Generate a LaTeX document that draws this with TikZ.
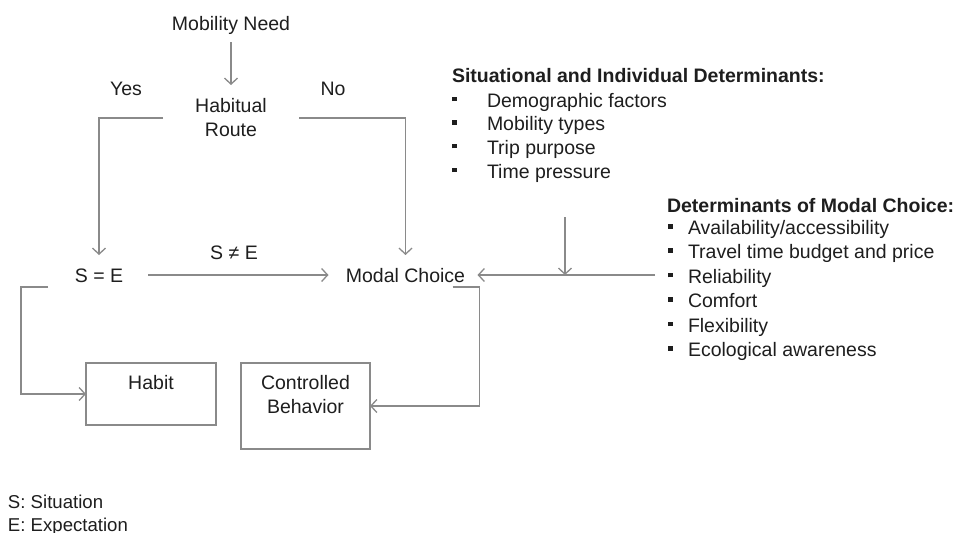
\documentclass[tikz,border=0pt]{standalone}
\usepackage{fontspec}
\setmainfont{Liberation Sans}
\usetikzlibrary{arrows.meta}
\definecolor{ink}{HTML}{1E1E1E}
\definecolor{wire}{HTML}{8A8A8A}
\newcommand{\sqbullet}{\rule[6pt]{4.5pt}{4.5pt}}
\begin{document}
\begin{tikzpicture}[x=1pt,y=-1pt,
  every node/.style={text=ink,font=\fontsize{19.5}{24}\selectfont,inner sep=0pt,outer sep=0pt},
  label/.style={anchor=base},
  item/.style={anchor=base west},
  arr/.style={draw=wire,line width=1.4pt,-{Straight Barb[length=6pt,width=13pt,line width=1.3pt]}},
  wireline/.style={draw=wire,line width=1.4pt},
  box/.style={draw=wire,line width=1.2pt,align=center},
  heading/.style={anchor=base west,font=\fontsize{19.5}{24}\selectfont\bfseries}]
\useasboundingbox[fill=white] (0,0) rectangle (970,533);

% decision flow
\node[label] (need) at (231,30.5) {Mobility Need};
\node[align=center,minimum width=136pt,minimum height=66pt] (route) at (231,118) {Habitual\\Route};
\node[label] (yes) at (126,95) {Yes};
\node[label] (no) at (333,95) {No};
\node[label] (see) at (99,282) {S = E};
\node[label] (modal) at (405.5,282) {Modal Choice};
\node[label] (neq) at (234,259) {S ≠ E};

% outcomes
\node[box,minimum width=130pt,minimum height=62pt] (habit) at (151,394) {Habit\\\mbox{}};
\node[box,minimum width=129pt,minimum height=86pt] (ctrl) at (305.5,406) {Controlled\\Behavior\\\mbox{}};

% situational and individual determinants
\node[heading] (sidhead) at (452,82) {Situational and Individual Determinants:};
\foreach \t [count=\i] in {Demographic factors,Mobility types,Trip purpose,Time pressure}
  \node[item] (sid\i) at (452,{107+23.7*(\i-1)}) {\makebox[35pt][l]{\sqbullet}\t};

% determinants of modal choice
\node[heading] (dmchead) at (667,212) {Determinants of Modal Choice:};
\foreach \t [count=\i] in {Availability/accessibility,Travel time budget and price,Reliability,Comfort,Flexibility,Ecological awareness}
  \node[item] (dmc\i) at (668,{234.5+24.4*(\i-1)}) {\makebox[20pt][l]{\sqbullet}\t};

% legend
\node[item,font=\fontsize{18.6}{23}\selectfont] (legs) at (8,508) {S: Situation};
\node[item,font=\fontsize{18.6}{23}\selectfont] (lege) at (8,531) {E: Expectation};

% connectors
\draw[arr] ([yshift=-11.5pt]need.base) -- (route.north);
\draw[arr] (route.west) -| ([yshift=27pt]see.base);
\draw[arr] (route.east) -| ([yshift=27pt]modal.base);
\draw[arr] ([shift={(49pt,7pt)}]see.base) -- ([shift={(-77pt,7pt)}]modal.base);
\coordinate (dmcin) at (655,275);
\coordinate (sidin) at (565,217);
\draw[arr] (dmcin) -- ([shift={(72pt,7pt)}]modal.base);
\draw[arr] (sidin) -- (sidin |- dmcin);
\draw[arr] ([shift={(47pt,-5pt)}]modal.base) -- ++(27,0) |- (ctrl.east);
\draw[arr] ([shift={(-51pt,-5pt)}]see.base) -- ++(-27,0) |- (habit.west);
\end{tikzpicture}
\end{document}
